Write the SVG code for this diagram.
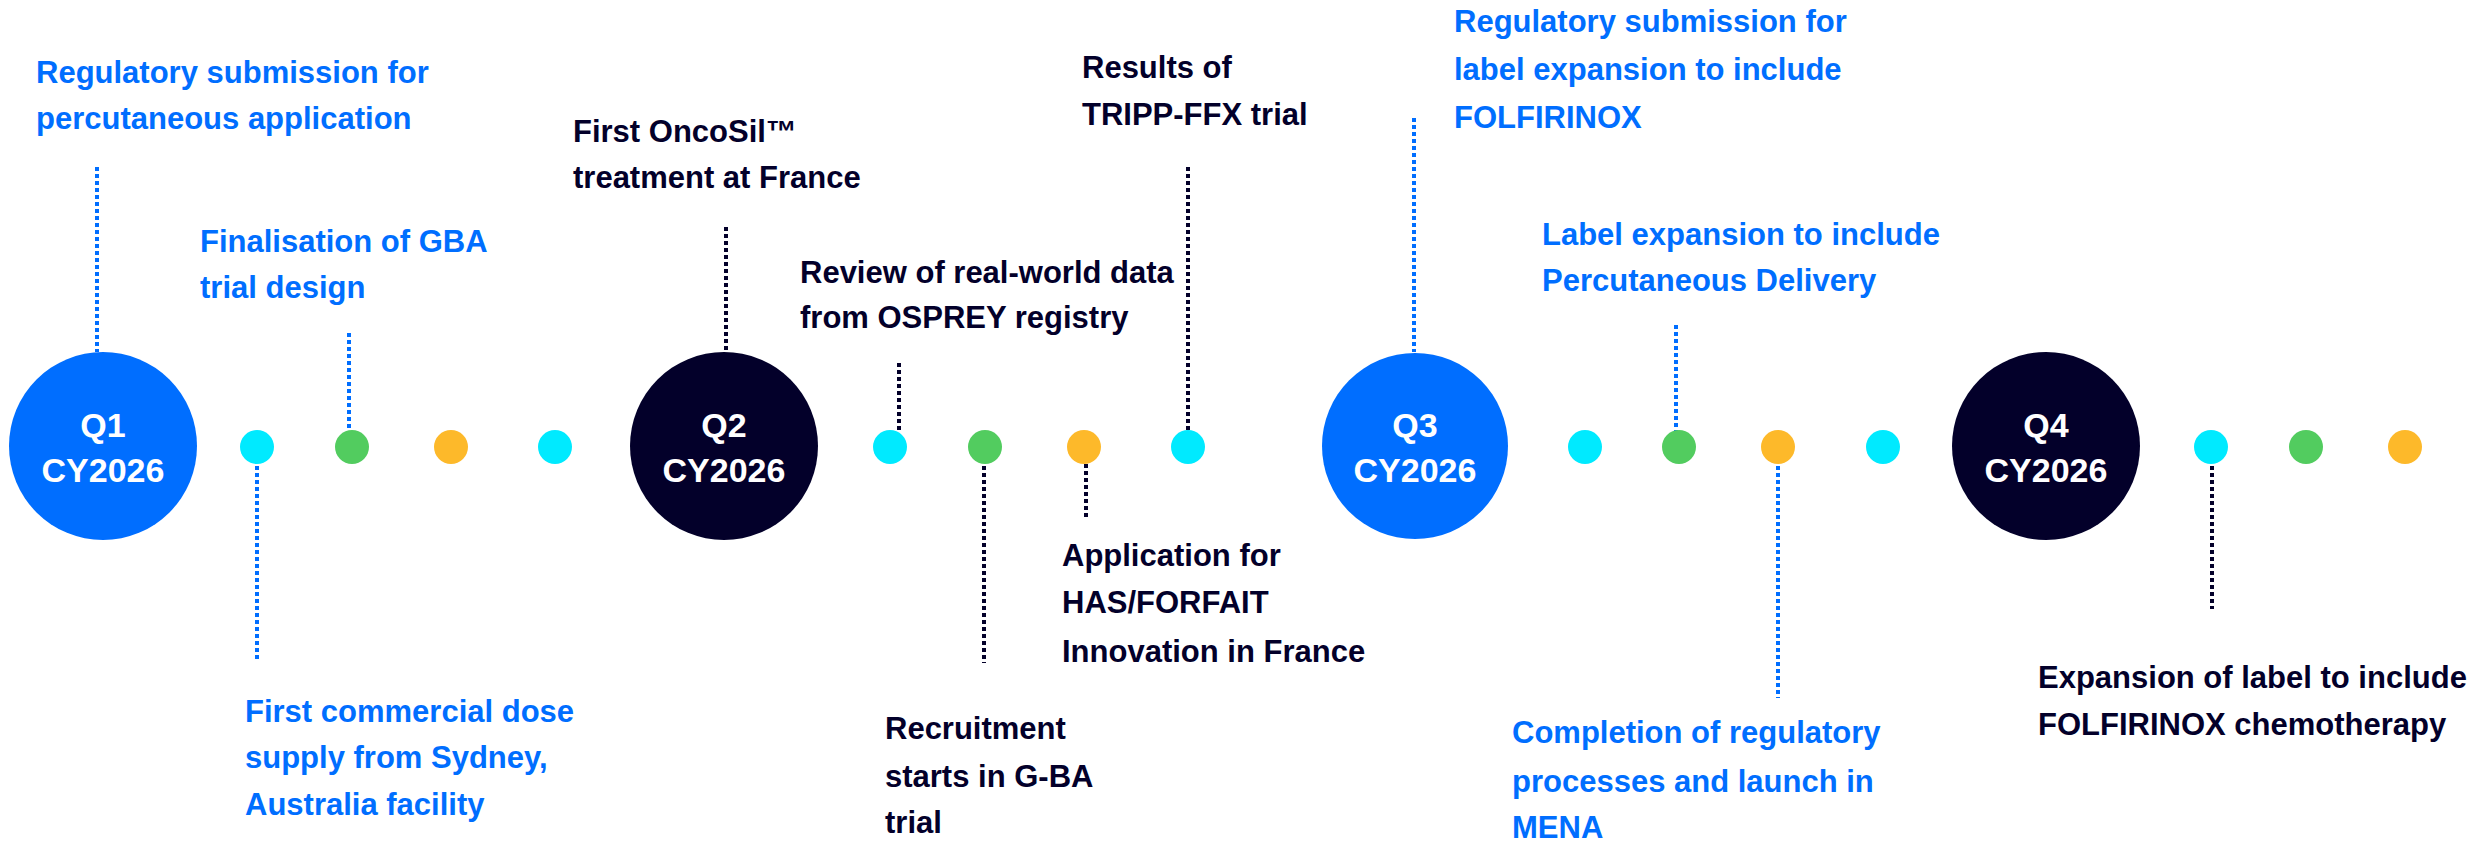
<svg xmlns="http://www.w3.org/2000/svg" width="2481" height="842" viewBox="0 0 2481 842">
<style>
.t{font-family:"Liberation Sans",Arial,sans-serif;font-weight:bold;font-size:31px}
.b{fill:#006EFF}
.n{fill:#03002A}
.q{font-family:"Liberation Sans",Arial,sans-serif;font-weight:bold;font-size:34px;fill:#FFFFFF;text-anchor:middle}
.lb{stroke:#006EFF;stroke-width:4;stroke-dasharray:4 3;fill:none}
.ln{stroke:#03002A;stroke-width:4;stroke-dasharray:4 3;fill:none}
.cy{fill:#00EAFF}
.gr{fill:#52CC5F}
.or{fill:#FDB92A}
</style>
<rect width="2481" height="842" fill="#FFFFFF"/>
<g id="connectors">
<line class="lb" x1="97" y1="167" x2="97" y2="352"/>
<line class="lb" x1="349" y1="333" x2="349" y2="431"/>
<line class="lb" x1="257" y1="466" x2="257" y2="662"/>
<line class="ln" x1="726" y1="227" x2="726" y2="352"/>
<line class="ln" x1="899" y1="363" x2="899" y2="430"/>
<line class="ln" x1="1188" y1="167" x2="1188" y2="430"/>
<line class="ln" x1="984" y1="466" x2="984" y2="663"/>
<line class="ln" x1="1086" y1="464" x2="1086" y2="519"/>
<line class="lb" x1="1414" y1="118" x2="1414" y2="352"/>
<line class="lb" x1="1676" y1="325" x2="1676" y2="431"/>
<line class="lb" x1="1778" y1="466" x2="1778" y2="698"/>
<line class="ln" x1="2212" y1="466" x2="2212" y2="609"/>
</g>
<g id="q1"><circle cx="103" cy="446" r="94" fill="#006EFF"/><text class="q" x="103" y="437">Q1</text><text class="q" x="103" y="482">CY2026</text></g>
<g id="q2"><circle cx="724" cy="446" r="94" fill="#03002A"/><text class="q" x="724" y="437">Q2</text><text class="q" x="724" y="482">CY2026</text></g>
<g id="q3"><circle cx="1415" cy="446" r="93" fill="#006EFF"/><text class="q" x="1415" y="437">Q3</text><text class="q" x="1415" y="482">CY2026</text></g>
<g id="q4"><circle cx="2046" cy="446" r="94" fill="#03002A"/><text class="q" x="2046" y="437">Q4</text><text class="q" x="2046" y="482">CY2026</text></g>
<g id="dots">
<circle class="cy" cx="257" cy="447" r="17"/>
<circle class="gr" cx="352" cy="447" r="17"/>
<circle class="or" cx="451" cy="447" r="17"/>
<circle class="cy" cx="555" cy="447" r="17"/>
<circle class="cy" cx="890" cy="447" r="17"/>
<circle class="gr" cx="985" cy="447" r="17"/>
<circle class="or" cx="1084" cy="447" r="17"/>
<circle class="cy" cx="1188" cy="447" r="17"/>
<circle class="cy" cx="1585" cy="447" r="17"/>
<circle class="gr" cx="1679" cy="447" r="17"/>
<circle class="or" cx="1778" cy="447" r="17"/>
<circle class="cy" cx="1883" cy="447" r="17"/>
<circle class="cy" cx="2211" cy="447" r="17"/>
<circle class="gr" cx="2306" cy="447" r="17"/>
<circle class="or" cx="2405" cy="447" r="17"/>
</g>
<g id="m1"><text class="t b" x="36" y="83">Regulatory submission for</text><text class="t b" x="36" y="129">percutaneous application</text></g>
<g id="m2"><text class="t b" x="200" y="252">Finalisation of GBA</text><text class="t b" x="200" y="298">trial design</text></g>
<g id="m3"><text class="t b" x="245" y="722">First commercial dose</text><text class="t b" x="245" y="768">supply from Sydney,</text><text class="t b" x="245" y="815">Australia facility</text></g>
<g id="m4"><text class="t n" x="573" y="142">First OncoSil™</text><text class="t n" x="573" y="188">treatment at France</text></g>
<g id="m5"><text class="t n" x="800" y="283">Review of real-world data</text><text class="t n" x="800" y="328">from OSPREY registry</text></g>
<g id="m6"><text class="t n" x="1082" y="78">Results of</text><text class="t n" x="1082" y="125">TRIPP-FFX trial</text></g>
<g id="m7"><text class="t n" x="1062" y="566">Application for</text><text class="t n" x="1062" y="613">HAS/FORFAIT</text><text class="t n" x="1062" y="662">Innovation in France</text></g>
<g id="m8"><text class="t n" x="885" y="739">Recruitment</text><text class="t n" x="885" y="787">starts in G-BA</text><text class="t n" x="885" y="833">trial</text></g>
<g id="m9"><text class="t b" x="1454" y="32">Regulatory submission for</text><text class="t b" x="1454" y="80">label expansion to include</text><text class="t b" x="1454" y="128">FOLFIRINOX</text></g>
<g id="m10"><text class="t b" x="1542" y="245">Label expansion to include</text><text class="t b" x="1542" y="291">Percutaneous Delivery</text></g>
<g id="m11"><text class="t b" x="1512" y="743">Completion of regulatory</text><text class="t b" x="1512" y="792">processes and launch in</text><text class="t b" x="1512" y="838">MENA</text></g>
<g id="m12"><text class="t n" x="2038" y="688">Expansion of label to include</text><text class="t n" x="2038" y="735">FOLFIRINOX chemotherapy</text></g>
</svg>
